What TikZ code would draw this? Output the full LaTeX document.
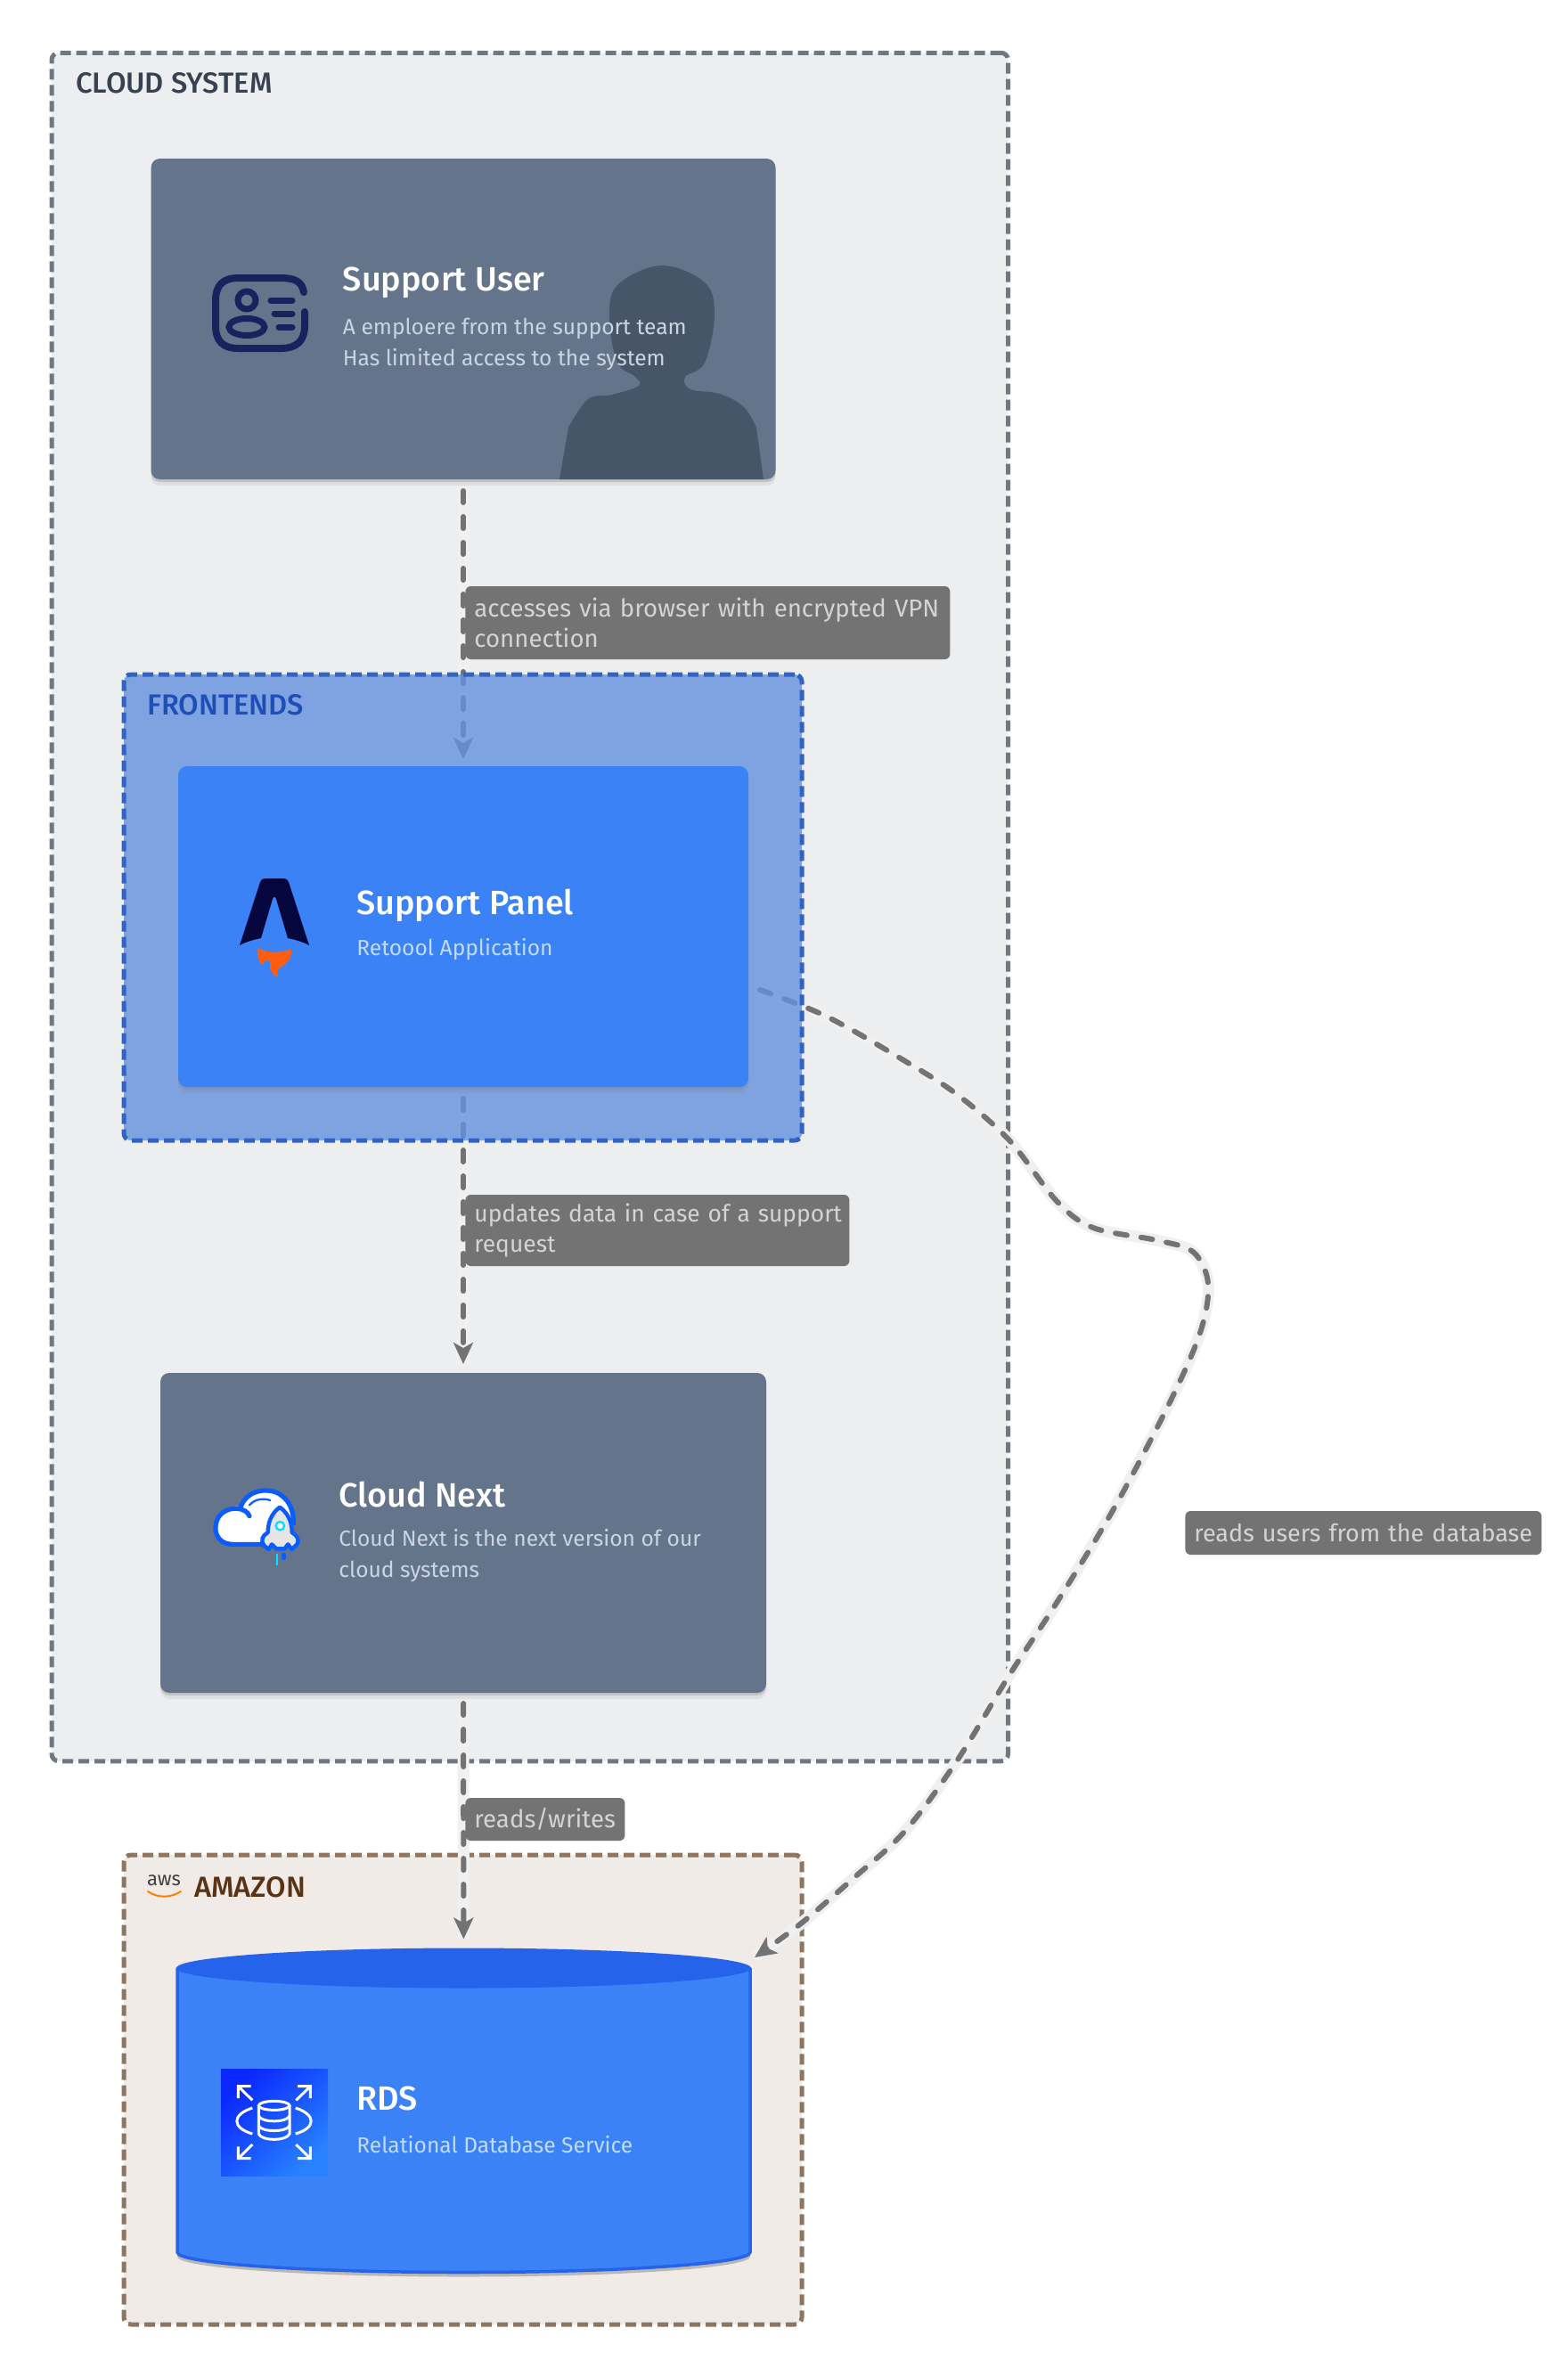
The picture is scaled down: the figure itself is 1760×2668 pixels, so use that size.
\documentclass[tikz,border=0pt]{standalone}
\usepackage{fontspec}
\setmainfont{Fira Sans}[BoldFont={Fira Sans Medium}]
\usepackage{tikz}
\usetikzlibrary{arrows.meta,shadows}
\definecolor{cloudbg}{HTML}{EDEEF0}
\definecolor{cloudline}{HTML}{717782}
\definecolor{cloudtext}{HTML}{374151}
\definecolor{frontfill}{HTML}{6490DE}
\definecolor{frontline}{HTML}{3162C8}
\definecolor{fronttext}{HTML}{1E4FB8}
\definecolor{amazonbg}{HTML}{F0EBE7}
\definecolor{amazonline}{HTML}{8D7560}
\definecolor{amazontext}{HTML}{5A3214}
\definecolor{slatecard}{HTML}{64748B}
\definecolor{slateshade}{HTML}{475569}
\definecolor{slatedesc}{HTML}{CBD5E1}
\definecolor{bluecard}{HTML}{3B82F6}
\definecolor{blueedge}{HTML}{2563EB}
\definecolor{bluedesc}{HTML}{BFDBFE}
\definecolor{linkgrey}{HTML}{737373}
\definecolor{linkhalo}{HTML}{F0F0F0}
\definecolor{labeltext}{HTML}{D4D4D4}
\definecolor{idnavy}{HTML}{16235C}
\definecolor{nextblue}{HTML}{0A5CFF}
\definecolor{nextcyan}{HTML}{00E5FF}
\definecolor{rdslow}{HTML}{0A28FF}
\definecolor{rdshigh}{HTML}{2882FF}
\definecolor{panelnavy}{HTML}{06063F}
\definecolor{panelflame}{HTML}{FF5D0F}
\pgfdeclarelayer{groundlayer}
\pgfdeclarelayer{linelayer}
\pgfsetlayers{groundlayer,linelayer,main}
\tikzset{
  groupbox/.style={rectangle,rounded corners=4pt,line width=2.5pt,dash pattern=on 6pt off 3pt,outer sep=0pt},
  card/.style={rectangle,rounded corners=5pt,outer sep=0pt,
    drop shadow={shadow xshift=0pt,shadow yshift=-3.5pt,opacity=.12},
    drop shadow={shadow xshift=0pt,shadow yshift=-1.5pt,opacity=.3}},
  grouptitle/.style={anchor=west,inner sep=0pt,font=\bfseries\fontsize{16.3}{18}\selectfont},
  cardtitle/.style={anchor=west,inner sep=0pt,text=white,font=\bfseries\fontsize{18.9}{20}\selectfont},
  carddesc/.style={anchor=west,inner sep=0pt,align=left,font=\fontsize{12.3}{17.5}\selectfont},
  edgelabel/.style={rectangle,rounded corners=3pt,fill=linkgrey,text=labeltext,anchor=west,align=left,inner xsep=5pt,inner ysep=3pt,font=\fontsize{13.8}{17}\selectfont},
  link/.style={draw=linkgrey,line width=3pt,line cap=round,dash pattern=on 6.5pt off 8pt,
    -{Stealth[length=12pt,width=11pt,inset=3pt]},
    preaction={draw=linkhalo,line width=6.5pt,line cap=butt,solid,-}},
}
\begin{document}
\begin{tikzpicture}[x=0.5pt,y=-0.5pt]
\useasboundingbox (0,0) rectangle (1760,2668);

\begin{pgfonlayer}{groundlayer}
\node[groupbox,draw=cloudline,fill=cloudbg,minimum width=536.75pt,minimum height=958.75pt] (cloud) at (594.75,1018) {};
\node[groupbox,draw=amazonline,fill=amazonbg,minimum width=380.5pt,minimum height=263.5pt] (amazon) at (519.5,2345.5) {};
\node[card,fill=slatecard,minimum width=350.5pt,minimum height=180pt] (user) at (520,358) {};
\node[card,fill=slatecard,minimum width=340pt,minimum height=179.5pt] (next) at (520,1720.5) {};
\node[rectangle,outer sep=0pt,minimum width=321.5pt,minimum height=182pt] (rds) at (520.5,2368.5) {};
\fill[black,opacity=.22] (199,2214) -- (199,2533) arc[start angle=180,end angle=0,x radius=321.5,y radius=22.5] -- (842,2214) -- cycle;
\filldraw[fill=bluecard,draw=blueedge,line width=1.75pt,line join=round] (199,2209) -- (199,2528) arc[start angle=180,end angle=0,x radius=321.5,y radius=22.5] -- (842,2209) -- cycle;
\fill[blueedge] (520.5,2209) ellipse (322.5 and 22.5);
\end{pgfonlayer}

\node[groupbox,draw=frontline,fill=frontfill,fill opacity=.8,minimum width=380.5pt,minimum height=261.5pt] (front) at (519.5,1018.5) {};
\node[card,fill=bluecard,minimum width=320pt,minimum height=180pt] (panel) at (520,1040) {};

\coordinate (panelout) at ([xshift=6.5pt,yshift=-35.5pt]panel.east);
\coordinate (rdsin) at ([shift={(163.25pt,85.75pt)}]rds.center);

\begin{pgfonlayer}{linelayer}
\draw[link,shorten <=6.5pt,shorten >=4pt] (user) -- (panel);
\draw[link,shorten <=6.5pt,shorten >=5pt] (panel) -- (next);
\draw[link,shorten <=6pt,shorten >=5pt] (next) -- (rds);
\draw[link] plot[smooth,tension=.55] coordinates {(panelout) (928,1141) (1016,1191) (1075,1229) (1133,1280) (1186,1348) (1227,1378) (1298,1392) (1339,1405) (1356,1440) (1348,1493) (1315,1570) (1251,1692) (1186,1799) (1133,1880) (1075,1975) (1016,2055) (957,2109) (899,2159) (rdsin)};
\end{pgfonlayer}

\node[grouptitle,text=cloudtext] (cloudtitle) at (85,93) {CLOUD SYSTEM};
\node[grouptitle,text=fronttext] (fronttitle) at (165,791) {FRONTENDS};
\node[grouptitle,text=amazontext] (amazontitle) at (218,2118) {AMAZON};
\node[anchor=center,inner sep=0pt,text=black!75,font=\fontsize{11}{11}\selectfont] (awstext) at (184,2111) {aws};
\draw[orange,line width=1pt,line cap=round] (166,2123) .. controls (178,2131) and (192,2130) .. (203,2123);

\fill[slateshade] (628,538) -- plot[smooth,tension=.6] coordinates {(638,480) (660,448) (687,443) (717,433) (712,422) (693,407) (684,357) (693,320) (742,298) (791,317) (802,353) (791,407) (769,423) (775,437) (808,442) (835,457) (849,480)} -- (857,538) -- cycle;
\node[cardtitle] (usertitle) at (384.5,317) {Support User};
\node[carddesc,text=slatedesc] (userdesc) at (384.5,386) {A emploere from the support team\\Has limited access to the system};
\draw[idnavy,line width=4pt,line cap=round] (341,328) .. controls (339,316) and (331,312) .. (315,312) -- (268,312) .. controls (250,312) and (242,320) .. (242,338) -- (242,365) .. controls (242,383) and (250,391) .. (268,391) -- (315,391) .. controls (333,391) and (342,383) .. (342,365) -- (342,350);
\draw[idnavy,line width=3.5pt] (277,337) circle (10);
\draw[idnavy,line width=3.5pt] (277,367) ellipse (20 and 9.5);
\draw[idnavy,line width=3.5pt,line cap=round] (304,337) -- (328,337);
\draw[idnavy,line width=3.5pt,line cap=round] (308,352) -- (328,352);
\draw[idnavy,line width=3.5pt,line cap=round] (313,367) -- (328,367);

\fill[panelnavy] (292,990) .. controls (293,987) and (295,986) .. (298,986) -- (318,986) .. controls (321,986) and (323,987) .. (324,990) -- (347,1061) .. controls (340,1057) and (332,1055) .. (323,1053) -- (310,1009) .. controls (309,1006) and (307,1006) .. (306,1009) -- (293,1053) .. controls (284,1055) and (276,1057) .. (269,1061) -- cycle;
\fill[panelflame] (289,1064) .. controls (300,1070) and (316,1070) .. (327,1065) .. controls (328,1075) and (322,1082) .. (314,1086) .. controls (310,1090) and (311,1093) .. (312,1097) .. controls (305,1094) and (302,1087) .. (303,1080) .. controls (303,1077) and (297,1076) .. (294,1083) .. controls (291,1080) and (288,1072) .. (289,1064) -- cycle;
\node[cardtitle] (paneltitle) at (400,1016) {Support Panel};
\node[carddesc,text=bluedesc] (paneldesc) at (400,1066) {Retoool Application};

\begin{scope}[shift={(230,1670)},x=0.1667pt,y=-0.1667pt]
\fill[white] (120,65) .. controls (140,10) and (200,0) .. (240,15) .. controls (285,35) and (300,80) .. (298,120) -- (290,190) -- (95,190) .. controls (35,190) and (25,135) .. (45,100) .. controls (75,55) and (115,60) .. (120,65) -- cycle;
\draw[nextblue,line width=2.6pt,line cap=round] (120,65) .. controls (140,10) and (200,0) .. (240,15) .. controls (285,35) and (300,80) .. (298,120);
\draw[nextblue,line width=2.6pt,line cap=round] (150,95) .. controls (140,65) and (75,55) .. (45,100) .. controls (25,135) and (35,190) .. (95,190) -- (205,190);
\draw[nextblue,line width=1.1pt,line cap=round] (150,58) .. controls (170,35) and (200,35) .. (220,42);
\filldraw[fill=black!10,draw=nextblue,line width=2.2pt,line join=round] (252,65) .. controls (225,85) and (212,115) .. (212,150) .. controls (195,160) and (185,175) .. (200,195) -- (215,207) -- (225,190) -- (240,205) -- (268,205) -- (280,190) -- (292,207) -- (310,190) .. controls (320,175) and (310,160) .. (293,150) .. controls (293,115) and (280,85) .. (252,65) -- cycle;
\filldraw[fill=white,draw=nextcyan,line width=1.2pt] (253,128) circle (14);
\draw[nextcyan,line width=1.1pt] (243,222) -- (243,260);
\draw[nextblue,line width=2.2pt,line cap=round] (265,224) -- (265,236);
\end{scope}
\node[cardtitle] (nexttitle) at (380,1677) {Cloud Next};
\node[carddesc,text=slatedesc] (nextdesc) at (380,1746.5) {Cloud Next is the next version of our\\cloud systems};

\begin{scope}[shift={(240,2330)},x=0.1667pt,y=-0.1667pt]
\shade[left color=rdslow,right color=rdshigh,shading angle=45] (24,-24) rectangle (384,336);
\foreach \cornerx/\cornery/\dirx/\diry in {82/35/1/1,325/35/-1/1,82/278/1/-1,325/278/-1/-1}
  \draw[white,line width=1.5pt] (\cornerx+43*\dirx,\cornery) -- (\cornerx,\cornery) -- (\cornerx,\cornery+40*\diry) (\cornerx,\cornery) -- (\cornerx+48*\dirx,\cornery+47*\diry);
\draw[white,line width=1.5pt] (203,100) ellipse (52 and 15);
\draw[white,line width=1.5pt] (151,100) -- (151,195) .. controls (160,220) and (246,220) .. (255,195) -- (255,100);
\draw[white,line width=1.5pt] (151,135) .. controls (160,158) and (246,158) .. (255,135);
\draw[white,line width=1.5pt] (151,168) .. controls (160,190) and (246,190) .. (255,168);
\draw[white,line width=1.5pt] (130,108) .. controls (60,130) and (60,175) .. (130,195);
\draw[white,line width=1.5pt] (275,108) .. controls (345,130) and (345,175) .. (275,195);
\end{scope}
\node[cardtitle] (rdstitle) at (400,2355) {RDS};
\node[carddesc,text=bluedesc] (rdsdesc) at (400,2407) {Relational Database Service};

\node[edgelabel,text width=262pt,minimum height=41pt] (labelvpn) at (522,699) {\mbox{accesses via browser with encrypted VPN}\\connection};
\node[edgelabel,text width=205.5pt,minimum height=40pt,font=\fontsize{13.2}{17}\selectfont] (labelsupport) at (522,1381) {\mbox{updates data in case of a support}\\request};
\node[edgelabel,text width=79.5pt,minimum height=24pt] (labelrw) at (522,2042) {reads/writes};
\node[edgelabel,text width=190pt,minimum height=24.5pt,font=\fontsize{13.5}{17}\selectfont] (labelusers) at (1330,1720.5) {\mbox{reads users from the database}};
\end{tikzpicture}
\end{document}
